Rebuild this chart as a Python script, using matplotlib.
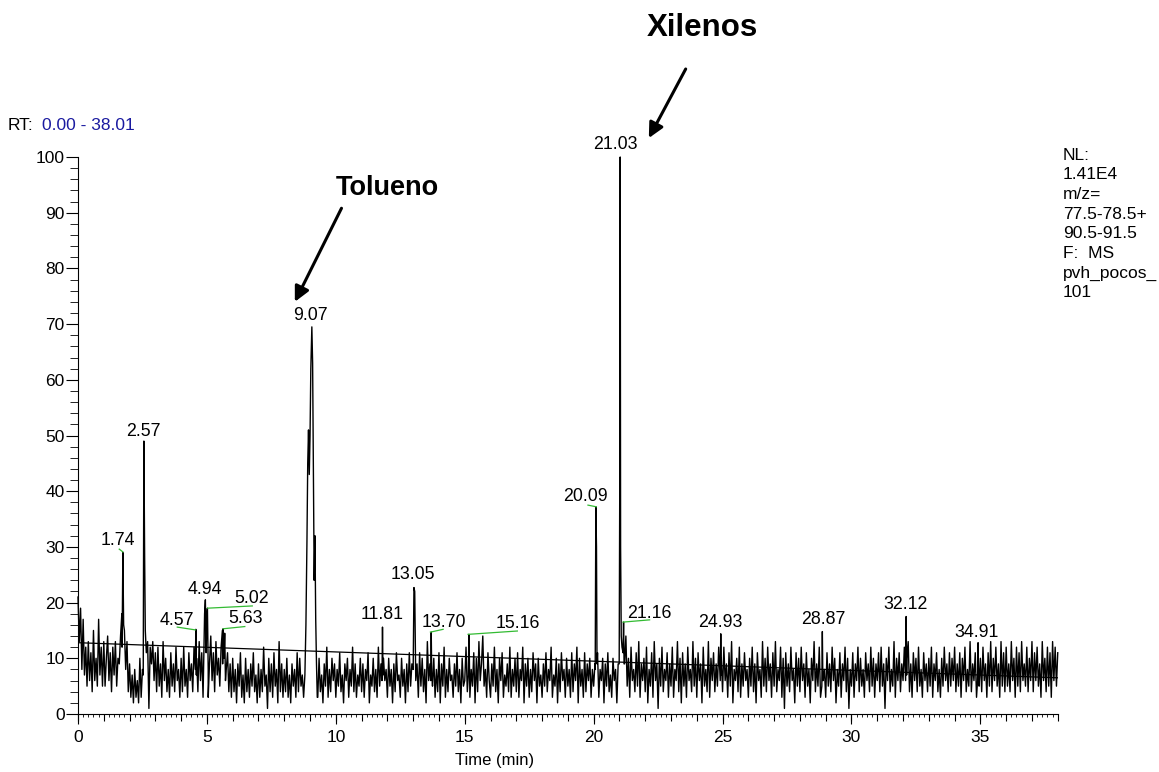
import numpy as np
import matplotlib
matplotlib.use("Agg")
import matplotlib.pyplot as plt

plt.rcParams["font.family"] = ["Liberation Sans", "DejaVu Sans"]

# baseline noise, one row per minute, sampled every 0.05 min
noise_rows = [
    [21, 13, 19, 8, 17, 7, 12, 5, 13, 6, 11, 4, 15, 6, 10, 5, 17, 7, 12, 5],
    [13, 5, 10, 14, 6, 11, 4, 12, 7, 13, 5, 10, 9, 14, 18, 13, 15, 8, 13, 4],
    [9, 3, 7, 2, 8, 3, 6, 2, 10, 3, 8, 2, 15, 11, 13, 1, 12, 9, 13, 6],
    [11, 4, 12, 5, 9, 3, 13, 6, 10, 4, 8, 3, 11, 5, 9, 4, 12, 6, 8, 3],
    [10, 4, 12, 5, 8, 3, 11, 6, 9, 4, 12, 5, 10, 4, 13, 6, 11, 3, 14, 18],
    [12, 3, 9, 14, 6, 11, 4, 13, 7, 10, 5, 12, 15, 6, 13, 8, 11, 4, 9, 3],
    [10, 4, 8, 2, 9, 5, 11, 3, 7, 2, 10, 4, 8, 3, 9, 5, 11, 4, 7, 2],
    [9, 3, 8, 4, 12, 5, 7, 1, 10, 4, 9, 3, 11, 5, 8, 2, 13, 4, 9, 3],
    [8, 4, 10, 3, 7, 2, 9, 5, 8, 3, 11, 4, 10, 5, 7, 3, 9, 6, 10, 8],
    [4, 11, 2, 9, 5, 8, 3, 10, 4, 7, 2, 9, 5, 12, 3, 8, 4, 10, 6, 9],
    [3, 8, 5, 11, 4, 7, 2, 9, 6, 10, 3, 8, 5, 12, 4, 9, 3, 7, 5, 10],
    [4, 9, 3, 8, 6, 11, 2, 7, 5, 10, 4, 8, 3, 12, 5, 9, 4, 10, 6, 8],
    [3, 10, 5, 8, 2, 9, 4, 11, 6, 7, 3, 10, 5, 8, 2, 9, 4, 11, 5, 9],
    [4, 12, 6, 9, 3, 11, 5, 10, 4, 8, 2, 13, 6, 9, 14, 5, 10, 3, 8, 4],
    [11, 2, 9, 5, 12, 3, 8, 4, 10, 6, 7, 3, 9, 5, 11, 4, 8, 2, 10, 5],
    [6, 12, 4, 9, 3, 8, 5, 11, 2, 10, 4, 13, 6, 9, 14, 5, 8, 3, 11, 6],
    [3, 9, 5, 12, 4, 8, 2, 10, 6, 11, 3, 7, 5, 9, 4, 12, 3, 8, 5, 10],
    [4, 11, 3, 8, 6, 12, 2, 9, 5, 10, 3, 8, 4, 11, 6, 9, 2, 10, 5, 7],
    [3, 9, 5, 11, 4, 8, 6, 12, 3, 7, 5, 10, 2, 9, 4, 11, 6, 8, 3, 10],
    [5, 8, 3, 11, 4, 9, 6, 12, 2, 10, 5, 8, 3, 11, 4, 9, 6, 10, 3, 8],
    [5, 9, 4, 11, 3, 8, 6, 10, 2, 9, 5, 11, 4, 7, 3, 10, 6, 8, 2, 9],
    [10, 4, 13, 6, 9, 14, 5, 10, 3, 12, 6, 8, 4, 11, 5, 13, 3, 9, 6, 10],
    [4, 12, 2, 8, 5, 11, 3, 13, 6, 9, 1, 10, 5, 12, 4, 8, 6, 11, 3, 9],
    [5, 12, 3, 8, 6, 13, 4, 10, 2, 11, 5, 9, 3, 12, 6, 8, 4, 13, 5, 10],
    [3, 11, 6, 9, 2, 12, 5, 8, 4, 13, 3, 10, 6, 11, 4, 9, 5, 12, 7, 10],
    [4, 12, 6, 9, 3, 11, 5, 13, 2, 8, 6, 10, 4, 12, 3, 9, 5, 11, 6, 8],
    [3, 10, 5, 12, 4, 9, 2, 11, 6, 8, 3, 13, 5, 10, 4, 12, 6, 9, 3, 11],
    [5, 13, 4, 8, 6, 12, 3, 10, 1, 11, 5, 9, 4, 12, 6, 8, 2, 11, 5, 10],
    [4, 12, 6, 9, 3, 11, 5, 8, 2, 10, 6, 13, 4, 9, 5, 12, 3, 10, 6, 8],
    [3, 11, 5, 9, 4, 12, 6, 10, 2, 8, 5, 11, 3, 9, 6, 12, 4, 10, 1, 8],
    [5, 11, 3, 9, 6, 12, 4, 10, 5, 8, 3, 11, 6, 9, 4, 12, 5, 10, 3, 9],
    [6, 11, 4, 12, 5, 9, 1, 10, 6, 12, 4, 8, 5, 13, 3, 10, 6, 11, 4, 9],
    [6, 12, 5, 10, 13, 4, 9, 3, 11, 6, 10, 4, 12, 5, 8, 3, 11, 6, 9, 4],
    [10, 5, 12, 3, 9, 6, 11, 4, 8, 3, 10, 5, 12, 6, 9, 4, 11, 5, 10, 6],
    [12, 4, 9, 5, 11, 3, 10, 6, 12, 4, 8, 5, 13, 4, 9, 6, 11, 3, 12, 5],
    [10, 4, 12, 6, 9, 3, 11, 5, 13, 4, 10, 6, 12, 5, 9, 3, 13, 5, 11, 4],
    [12, 5, 9, 4, 13, 6, 10, 3, 12, 5, 11, 4, 13, 6, 9, 5, 12, 4, 10, 6],
    [13, 4, 11, 6, 12, 5, 9, 3, 13, 6, 10, 4, 12, 5, 11, 3, 13, 6, 12, 5],
    [11],
]

# peaks: (time, relative abundance) points
peaks = [
    [(1.71, 12), (1.74, 29), (1.77, 16)],
    [(2.53, 7), (2.555, 49), (2.585, 28), (2.61, 15)],
    [(4.55, 8), (4.57, 15.2), (4.59, 7)],
    [(4.88, 10), (4.91, 18), (4.94, 20.5), (4.97, 11), (5.00, 18), (5.02, 19), (5.05, 8)],
    [(5.61, 9), (5.63, 15.3), (5.66, 10), (5.69, 14.5), (5.72, 6)],
    [(8.80, 7), (8.84, 16), (8.88, 31), (8.91, 45), (8.94, 51), (8.97, 43),
     (9.00, 50), (9.03, 62), (9.07, 69.5), (9.10, 63), (9.13, 44), (9.16, 24),
     (9.19, 32), (9.22, 17), (9.25, 9), (9.28, 3)],
    [(11.79, 6), (11.81, 15.6), (11.83, 7)],
    [(13.00, 8), (13.03, 22.7), (13.06, 22), (13.09, 11)],
    [(13.68, 6), (13.70, 14.7), (13.72, 7)],
    [(15.14, 7), (15.16, 14.3), (15.18, 10)],
    [(20.06, 8), (20.085, 37.2), (20.11, 30), (20.13, 9)],
    [(20.99, 9), (21.015, 45), (21.03, 100), (21.045, 30), (21.07, 14), (21.10, 12)],
    [(21.14, 11), (21.16, 16.5), (21.18, 9)],
    [(24.91, 6), (24.93, 14.4), (24.95, 7)],
    [(28.85, 5), (28.87, 14.8), (28.89, 6)],
    [(32.10, 6), (32.12, 17.5), (32.14, 7)],
    [(34.89, 6), (34.91, 12.8), (34.93, 7)],
]

peak_labels = ["1.74", "2.57", "4.57", "4.94", "5.02", "5.63", "9.07", "11.81", "13.05",
               "13.70", "15.16", "20.09", "21.03", "21.16", "24.93", "28.87", "32.12", "34.91"]
label_pos = [(1.55, 31.1), (2.52, 50.8), (3.84, 16.7), (4.92, 22.4), (6.74, 20.7),
             (6.5, 17.1), (9.0, 71.5), (11.8, 17.8), (13.0, 25.1), (14.2, 16.5),
             (17.05, 16.3), (19.7, 39.0), (20.85, 102.3), (22.17, 18.1), (24.9, 16.5),
             (28.9, 16.9), (32.1, 19.6), (34.85, 14.7)]

# green leader lines from label to peak
leaders = [
    ((1.60, 29.6), (1.74, 29.1)),
    ((3.85, 15.6), (4.55, 15.1)),
    ((5.03, 19.0), (6.76, 19.4)),
    ((5.63, 15.3), (6.47, 15.7)),
    ((13.67, 14.7), (14.16, 15.2)),
    ((15.13, 14.3), (17.04, 14.9)),
    ((19.78, 37.5), (20.10, 37.2)),
    ((21.14, 16.5), (22.17, 16.9)),
]

baseline_fit = ((0.0, 12.8), (38.01, 6.5))

info_lines = ["NL:", "1.41E4", "m/z=", "77.5-78.5+", "90.5-91.5", "F:  MS", "pvh_pocos_", "101"]

# build trace
noise = np.concatenate([np.array(r, dtype=float) for r in noise_rows])
t_noise = np.arange(len(noise)) * 0.05
keep = np.ones(len(noise), bool)
for pk in peaks:
    lo, hi = pk[0][0], pk[-1][0]
    keep &= ~((t_noise >= lo) & (t_noise <= hi))
pt = np.array([p[0] for pk in peaks for p in pk])
py = np.array([p[1] for pk in peaks for p in pk])
t_all = np.concatenate([t_noise[keep], pt])
y_all = np.concatenate([noise[keep], py])
order = np.argsort(t_all)
t_all, y_all = t_all[order], y_all[order]

fig = plt.figure(figsize=(11.59, 7.72), dpi=100)
ax = fig.add_axes([78 / 1159, 58 / 772, 980 / 1159, 557 / 772])

ax.plot(t_all, y_all, color="black", lw=1.0, clip_on=False)
ax.plot([baseline_fit[0][0], baseline_fit[1][0]], [baseline_fit[0][1], baseline_fit[1][1]],
        color="black", lw=0.9)
for (x0, y0), (x1, y1) in leaders:
    ax.plot([x0, x1], [y0, y1], color="#33bb33", lw=0.9)
for lab, (lx, ly) in zip(peak_labels, label_pos):
    ax.text(lx, ly, lab, ha="center", va="center", fontsize=12.8, clip_on=False)

ax.set_xlim(0, 38.01)
ax.set_ylim(0, 100)
for s in ["top", "right"]:
    ax.spines[s].set_visible(False)
ax.set_xticks(np.arange(0, 36, 5))
ax.set_xticks(np.arange(0, 38.01, 0.2), minor=True)
ax.set_yticks(np.arange(0, 101, 10))
ax.set_yticks(np.arange(0, 101, 2), minor=True)
ax.tick_params(axis="x", which="major", length=7.5, labelsize=12.5, pad=4)
ax.tick_params(axis="x", which="minor", length=2.2)
ax.tick_params(axis="y", which="major", length=8.5, labelsize=12.5, pad=1)
ax.tick_params(axis="y", which="minor", length=5.5)
sec = ax.secondary_xaxis("bottom")
sec.set_xticks(np.arange(0, 39, 1))
sec.tick_params(length=5, labelbottom=False)
sec.spines["bottom"].set_visible(False)

fig.text(495 / 1159, 1 - 760 / 772, "Time (min)", fontsize=12, ha="center", va="center")

fig.text(8 / 1159, 1 - 125 / 772, "RT:", fontsize=12.5, va="center")
fig.text(42 / 1159, 1 - 125 / 772, "0.00 - 38.01", fontsize=12.5, va="center", color="#1a1aa0")
for i, line in enumerate(info_lines):
    fig.text(1063 / 1159, 1 - (155 + 19.7 * i) / 772, line, fontsize=12.5, va="center")

arrow = dict(arrowstyle="-|>,head_length=0.9,head_width=0.45", color="black", lw=2.2,
             shrinkA=0, shrinkB=0)
ax.annotate("", xy=(8.41, 74.0), xytext=(10.22, 90.8), arrowprops=arrow, annotation_clip=False)
ax.annotate("", xy=(22.14, 103.4), xytext=(23.57, 115.8), arrowprops=arrow, annotation_clip=False)
ax.text(11.98, 94.4, "Tolueno", fontsize=19.5, fontweight="bold", ha="center", va="center",
        clip_on=False)
ax.text(24.2, 123.2, "Xilenos", fontsize=22.5, fontweight="bold", ha="center", va="center",
        clip_on=False)

fig.savefig("out.png", dpi=100)
